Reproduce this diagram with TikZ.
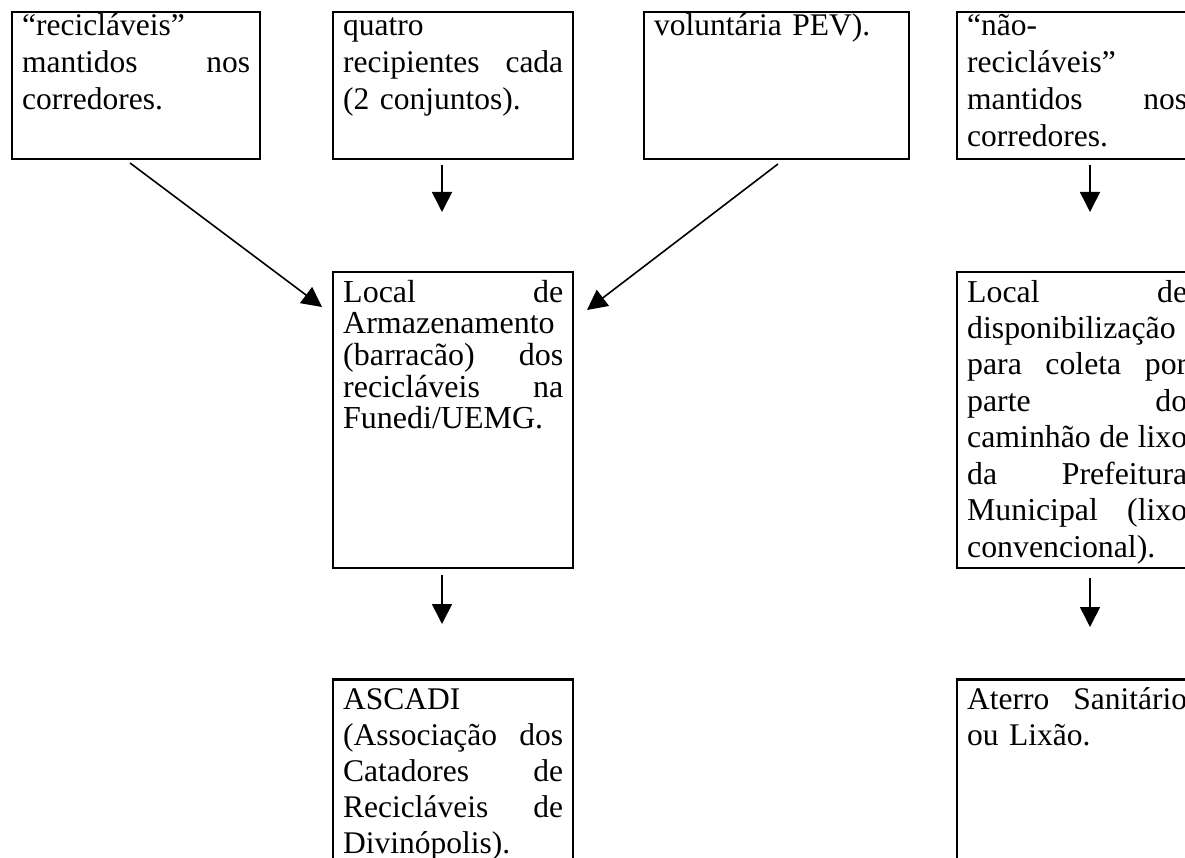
\documentclass[tikz,border=0pt]{standalone}
\usepackage{fontspec}
\setmainfont{Liberation Serif}
\usetikzlibrary{arrows.meta}
\begin{document}
\begin{tikzpicture}[x=1pt,y=-1pt,
  box/.style={draw, line width=2.4pt, anchor=north west, inner xsep=10pt, inner ysep=0pt,
    align=left, font=\fontsize{31.5pt}{36.5pt}\selectfont},
  topbox/.style={box, font=\fontsize{31.5pt}{37pt}\selectfont, text height=24pt, text depth=123.3pt},
  midbox/.style={box, text height=30pt, text depth=266pt},
  lowbox/.style={box, font=\fontsize{31.5pt}{36.2pt}\selectfont, text height=29.5pt, text depth=230pt},
  arr/.style={line width=1.6pt, -{Triangle[length=20pt,width=20pt]}}]
\useasboundingbox (0,0) rectangle (1185,858);
\clip (0,0) rectangle (1185,858);
% top row
\node[topbox, text width=228pt] (b1) at (11,10.7)
  {“recicláveis”\\ mantidos\hfill nos\\ corredores.};
\node[topbox, text width=220pt] (b2) at (332,10.7)
  {quatro\\ recipientes\hfill cada\\ (2 conjuntos).};
\node[topbox, text width=245pt] (b3) at (643,10.7)
  {voluntária PEV).};
\node[topbox, text width=220pt] (b4) at (956,10.7)
  {“não-\\ recicláveis”\\ mantidos\hfill nos\\ corredores.};
% middle row
\node[midbox, text width=220pt, font=\fontsize{32pt}{31.6pt}\selectfont] (b5) at (332,271)
  {Local\hfill de\\ Armazenamento\\ (barracão)\hfill dos\\ recicláveis\hfill na\\ Funedi/UEMG.};
\node[midbox, text width=220pt, font=\fontsize{31.8pt}{36.4pt}\selectfont] (b6) at (956,271)
  {Local\hfill de\\ disponibilização\\ para\hfill coleta\hfill por\\ parte\hfill do\\ caminhão\hfill de\hfill lixo\\ da\hfill Prefeitura\\ Municipal\hfill (lixo\\ convencional).};
% bottom row
\node[lowbox, text width=220pt] (b7) at (332,678.3)
  {ASCADI\\ (Associação\hfill dos\\ Catadores\hfill de\\ Recicláveis\hfill de\\ Divinópolis).};
\node[lowbox, text width=220pt] (b8) at (956,678.3)
  {Aterro\hfill Sanitário\\ ou Lixão.};
% connector end points
\coordinate (s1) at (130,163);  \coordinate (e1) at (322,307);
\coordinate (s2) at (442,165);  \coordinate (e2) at (442,212);
\coordinate (s3) at (778,164);  \coordinate (e3) at (587,310);
\coordinate (s4) at (1090,165); \coordinate (e4) at (1090,212);
\coordinate (s5) at (442,575);  \coordinate (e5) at (442,624);
\coordinate (s6) at (1090,578); \coordinate (e6) at (1090,627);
\draw[arr] (s1) -- (e1);
\draw[arr] (s2) -- (e2);
\draw[arr] (s3) -- (e3);
\draw[arr] (s4) -- (e4);
\draw[arr] (s5) -- (e5);
\draw[arr] (s6) -- (e6);
\end{tikzpicture}
\end{document}
